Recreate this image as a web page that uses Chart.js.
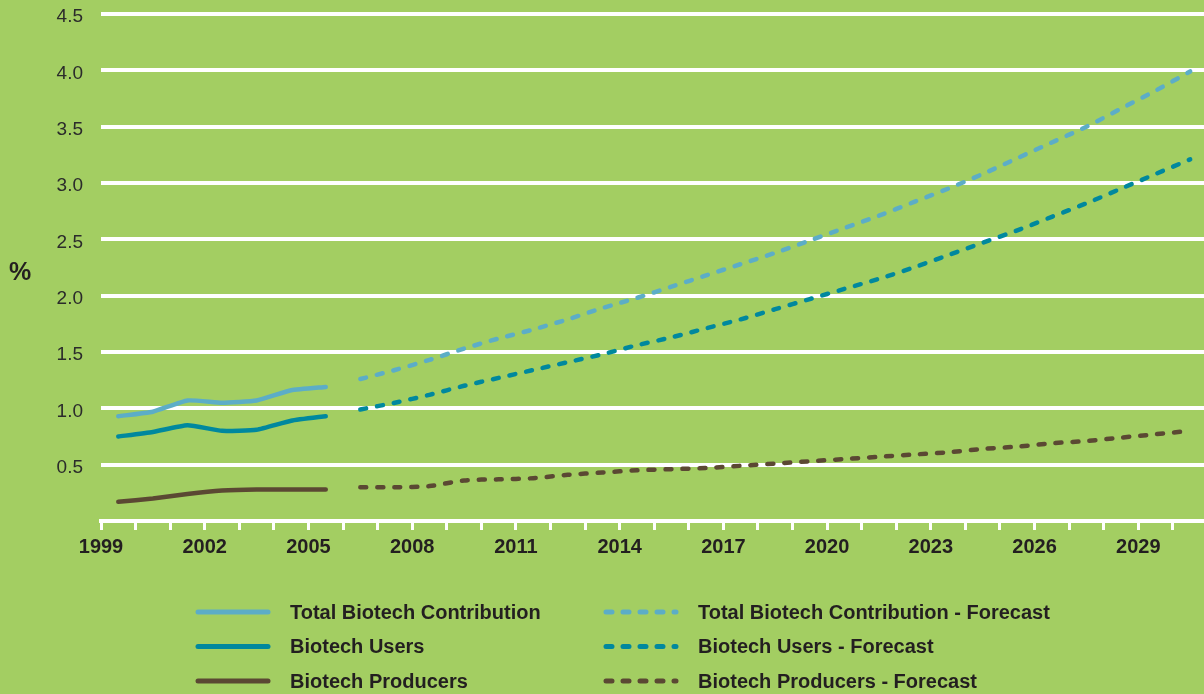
<!DOCTYPE html>
<html>
<head>
<meta charset="utf-8">
<script src="https://cdn.jsdelivr.net/npm/chart.js@4.4.1/dist/chart.umd.min.js"></script>
<style>
  html, body { margin: 0; padding: 0; background: #a3ce62; }
  #wrap { width: 1204px; height: 694px; }
</style>
</head>
<body>
<div id="wrap"><canvas id="bioChart" width="1204" height="694"></canvas></div>
<script>
// actual figures 1999-2005
const histYears = [1999, 2000, 2001, 2002, 2003, 2004, 2005];
const totalHist = [0.93, 0.97, 1.07, 1.05, 1.07, 1.16, 1.19];
const usersHist = [0.75, 0.79, 0.85, 0.80, 0.81, 0.89, 0.93];
const producersHist = [0.17, 0.20, 0.24, 0.27, 0.28, 0.28, 0.28];

// forecast 2006-2030
const forecastYears = [2006, 2007, 2008, 2009, 2010, 2011, 2012, 2013, 2014, 2015, 2016, 2017, 2018,
  2019, 2020, 2021, 2022, 2023, 2024, 2025, 2026, 2027, 2028, 2029, 2030];
const totalForecast = [1.26, 1.34, 1.43, 1.53, 1.62, 1.70, 1.79, 1.89, 1.98, 2.08, 2.18, 2.28, 2.38,
  2.49, 2.60, 2.71, 2.83, 2.95, 3.08, 3.22, 3.36, 3.50, 3.66, 3.82, 3.99];
const usersForecast = [0.99, 1.05, 1.12, 1.20, 1.27, 1.34, 1.41, 1.48, 1.56, 1.63, 1.71, 1.79, 1.88,
  1.97, 2.06, 2.15, 2.25, 2.36, 2.47, 2.58, 2.70, 2.82, 2.95, 3.08, 3.21];
const producersForecast = [0.30, 0.30, 0.31, 0.36, 0.37, 0.38, 0.41, 0.43, 0.45, 0.46, 0.47, 0.49, 0.51,
  0.53, 0.55, 0.57, 0.59, 0.61, 0.64, 0.66, 0.69, 0.71, 0.74, 0.77, 0.80];

const seriesNames = ['Total Biotech Contribution', 'Biotech Users', 'Biotech Producers'];
const xLabelYears = [1999, 2002, 2005, 2008, 2011, 2014, 2017, 2020, 2023, 2026, 2029];
const yLabels = [0.5, 1.0, 1.5, 2.0, 2.5, 3.0, 3.5, 4.0, 4.5];

const colors = ['#5cadc7', '#00889e', '#5b4833'];
const fontFam = '"Liberation Sans", Arial, Helvetica, sans-serif';

// values sit in the middle of each year
function toPoints(years, vals) {
  return years.map((y, i) => ({ x: y + 0.5, y: vals[i] }));
}

const histSets = [totalHist, usersHist, producersHist];
const foreSets = [totalForecast, usersForecast, producersForecast];

const datasets = [];
histSets.forEach((vals, i) => {
  datasets.push({
    label: seriesNames[i],
    data: toPoints(histYears, vals),
    borderColor: colors[i],
    borderWidth: 4.5,
    borderCapStyle: 'round',
    borderJoinStyle: 'round',
    pointRadius: 0,
    tension: 0.15,
    fill: false
  });
});
foreSets.forEach((vals, i) => {
  datasets.push({
    label: seriesNames[i] + ' - Forecast',
    data: toPoints(forecastYears, vals),
    borderColor: colors[i],
    borderWidth: 4.5,
    borderDash: [6, 11],
    borderCapStyle: 'round',
    pointRadius: 0,
    tension: 0.3,
    fill: false
  });
});

const legendPlugin = {
  id: 'twoColLegend',
  afterDraw(chart) {
    const ctx = chart.ctx;
    ctx.save();
    chart.data.datasets.forEach((ds, i) => {
      const x0 = i < 3 ? 198 : 606;
      const y = 612 + (i % 3) * 34.5;
      ctx.strokeStyle = ds.borderColor;
      ctx.lineWidth = 5;
      ctx.lineCap = 'round';
      ctx.setLineDash(ds.borderDash || []);
      ctx.beginPath();
      ctx.moveTo(x0, y);
      ctx.lineTo(x0 + 70, y);
      ctx.stroke();
      ctx.setLineDash([]);
      ctx.fillStyle = '#231f20';
      ctx.font = 'bold 20px ' + fontFam;
      ctx.textBaseline = 'middle';
      ctx.textAlign = 'left';
      ctx.fillText(ds.label, x0 + 92, y + 1);
    });
    // unit label
    ctx.font = 'bold 25px ' + fontFam;
    ctx.fillStyle = '#231f20';
    ctx.textBaseline = 'middle';
    ctx.fillText('%', 9, 273);
    ctx.restore();
  }
};

new Chart(document.getElementById('bioChart'), {
  type: 'line',
  data: { datasets: datasets },
  options: {
    responsive: false,
    animation: false,
    devicePixelRatio: 1,
    layout: { padding: { top: 14, right: 0, left: 0, bottom: 0 } },
    plugins: {
      legend: { display: false },
      tooltip: { enabled: false }
    },
    scales: {
      x: {
        type: 'linear',
        min: 1999,
        max: 2030.9,
        bounds: 'data',
        afterFit(scale) { scale.height = 173; },
        border: { display: true, color: '#ffffff', width: 4 },
        grid: { drawOnChartArea: false, drawTicks: true, tickLength: 9, color: '#ffffff', lineWidth: 3 },
        ticks: {
          stepSize: 1,
          includeBounds: false,
          autoSkip: false,
          maxRotation: 0,
          padding: 5,
          color: '#231f20',
          font: { family: fontFam, size: 20, weight: 'bold' },
          callback: (v) => xLabelYears.includes(v) ? String(v) : ''
        }
      },
      y: {
        min: 0,
        max: 4.5,
        afterFit(scale) {
          scale.width = 101;
          // keep the label overhang from pushing the plot down
          scale.paddingTop = 0;
          scale.paddingBottom = 0;
        },
        border: { display: false },
        grid: { color: '#ffffff', lineWidth: 4, drawTicks: false },
        ticks: {
          stepSize: 0.5,
          padding: 18,
          labelOffset: 3,
          color: '#2b2b2b',
          font: { family: fontFam, size: 19 },
          callback: (v) => yLabels.includes(v) ? v.toFixed(1) : ''
        }
      }
    }
  },
  plugins: [legendPlugin]
});
</script>
</body>
</html>
